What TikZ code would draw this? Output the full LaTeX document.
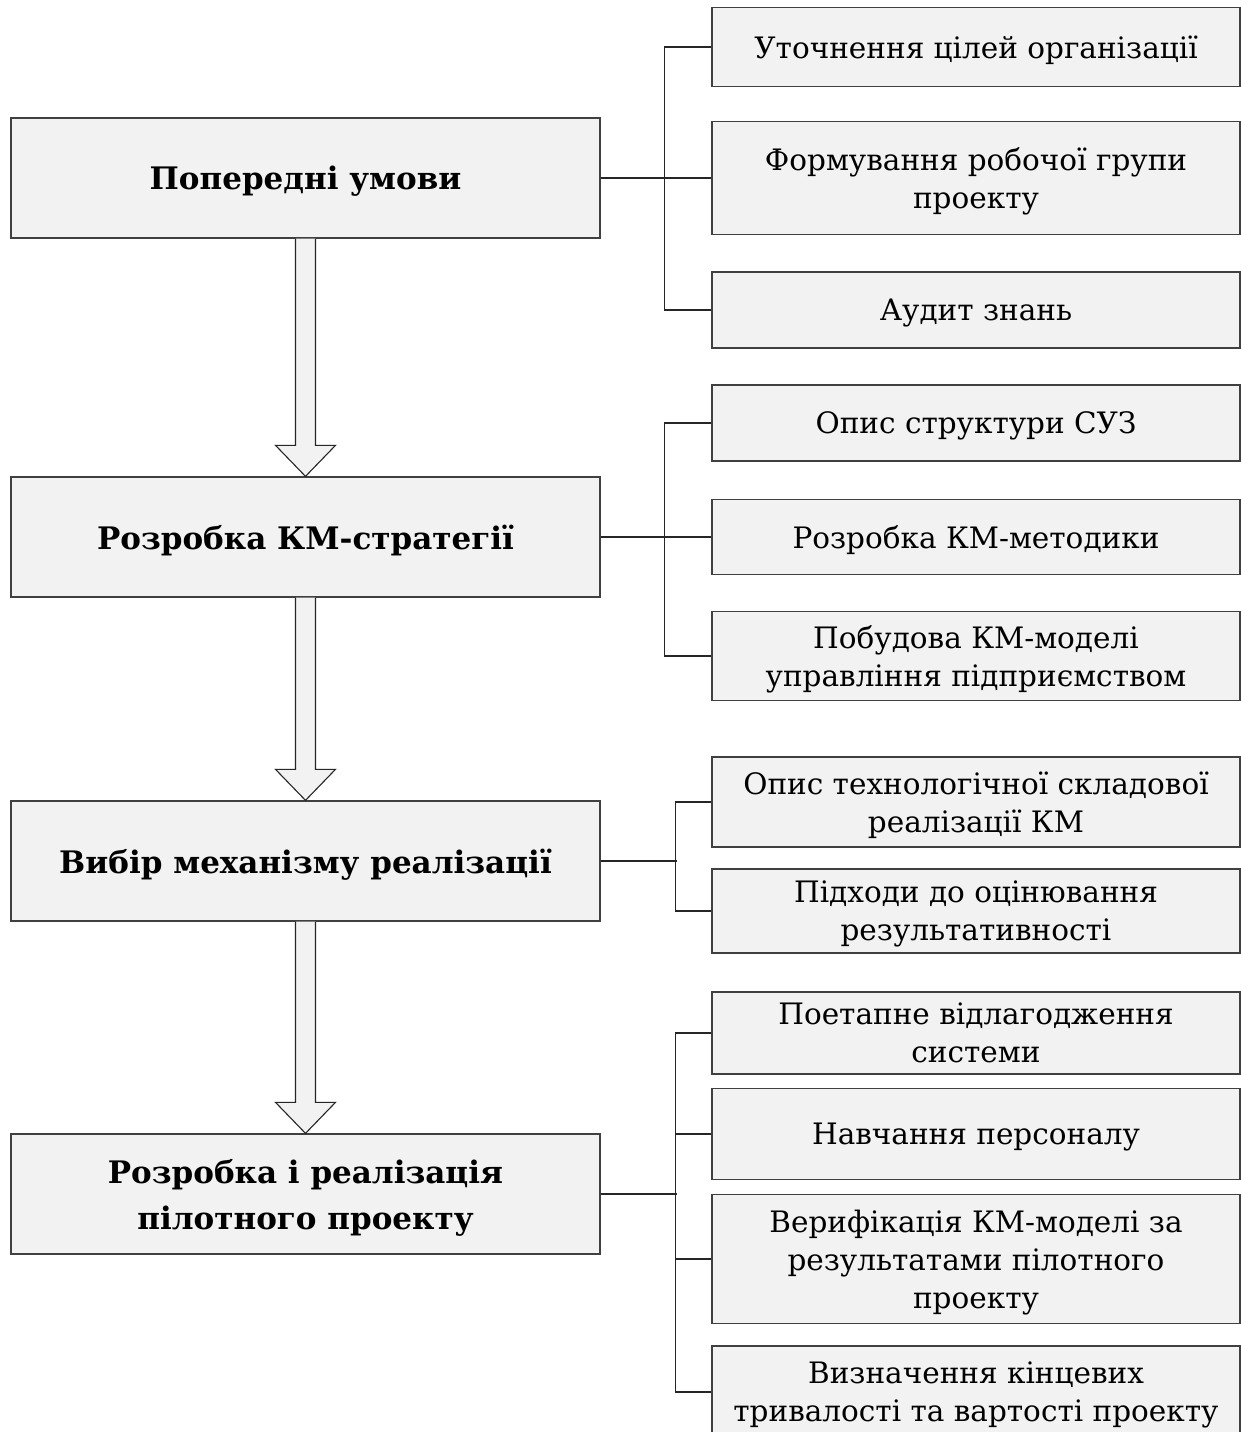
\documentclass[tikz,border=0pt]{standalone}
\usepackage{fontspec}
\setmainfont{DejaVu Serif}
\usetikzlibrary{calc}
\definecolor{boxfill}{HTML}{F2F2F2}
\definecolor{edge}{HTML}{404040}
\tikzset{
  stage/.style={draw=edge, line width=1.3pt, fill=boxfill, minimum width=589pt,
    minimum height=120pt, align=center, inner sep=0pt, text depth=0pt,
    font=\fontsize{31}{46}\selectfont\bfseries},
  task/.style={draw=edge, line width=1.3pt, fill=boxfill, minimum width=528pt,
    align=center, inner sep=0pt, text depth=0pt, font=\fontsize{29.5}{38}\selectfont},
  link/.style={draw=black!85, line width=1.1pt},
  flow/.style={draw=black!85, line width=1.1pt, fill=boxfill, line join=miter},
}
% hollow block arrow from the bottom of one stage to the top of the next
\newcommand\stagearrow[2]{%
  \path[flow] ($(#1.south)+(-10,0)$) -- ($(#2.north)+(-10,-31)$)
    -- ($(#2.north)+(-30,-31)$) -- (#2.north) -- ($(#2.north)+(30,-31)$)
    -- ($(#2.north)+(10,-31)$) -- ($(#1.south)+(10,0)$);}
\begin{document}
\begin{tikzpicture}[x=1pt,y=-1pt]
\useasboundingbox[fill=white] (0,0) rectangle (1241,1432);

% main stages
\node[stage] (m1) at (305.5,178) {Попередні умови};
\node[stage] (m2) at (305.5,537) {Розробка КМ-стратегії};
\node[stage] (m3) at (305.5,861) {Вибір механізму реалізації};
\node[stage] (m4) at (305.5,1194) {Розробка і реалізація\\пілотного проекту};

% tasks of stage 1
\node[task, minimum height=79pt] (b11) at (976,47) {Уточнення цілей організації};
\node[task, minimum height=113pt] (b12) at (976,178) {Формування робочої групи\\проекту};
\node[task, minimum height=76pt] (b13) at (976,310) {Аудит знань};

% tasks of stage 2
\node[task, minimum height=76pt] (b21) at (976,423) {Опис структури СУЗ};
\node[task, minimum height=75pt] (b22) at (976,537) {Розробка КМ-методики};
\node[task, minimum height=89pt] (b23) at (976,656) {Побудова КМ-моделі\\управління підприємством};

% tasks of stage 3
\node[task, minimum height=90pt] (b31) at (976,802) {Опис технологічної складової\\реалізації КМ};
\node[task, minimum height=84pt] (b32) at (976,911) {Підходи до оцінювання\\результативності};

% tasks of stage 4
\node[task, minimum height=82pt] (b41) at (976,1033) {Поетапне відлагодження\\системи};
\node[task, minimum height=91pt] (b42) at (976,1134) {Навчання персоналу};
\node[task, minimum height=129pt] (b43) at (976,1259) {Верифікація КМ-моделі за\\результатами пілотного\\проекту};
\node[task, minimum height=92pt] (b44) at (976,1392) {Визначення кінцевих\\тривалості та вартості проекту};

% stage arrows
\stagearrow{m1}{m2}
\stagearrow{m2}{m3}
\stagearrow{m3}{m4}

% branch connectors
\draw[link] (m1.east) -- (b12.west);
\draw[link] (b11.west) -- ++(-47,0) |- (b13.west);
\draw[link] (m2.east) -- (b22.west);
\draw[link] (b21.west) -- ++(-47,0) |- (b23.west);
\draw[link] (m3.east) -- ++(76,0);
\draw[link] (b31.west) -- ++(-36,0) |- (b32.west);
\draw[link] (m4.east) -- ++(76,0);
\draw[link] (b41.west) -- ++(-36,0) |- (b44.west);
\draw[link] (b42.west) -- ++(-36,0);
\draw[link] (b43.west) -- ++(-36,0);
\end{tikzpicture}
\end{document}
